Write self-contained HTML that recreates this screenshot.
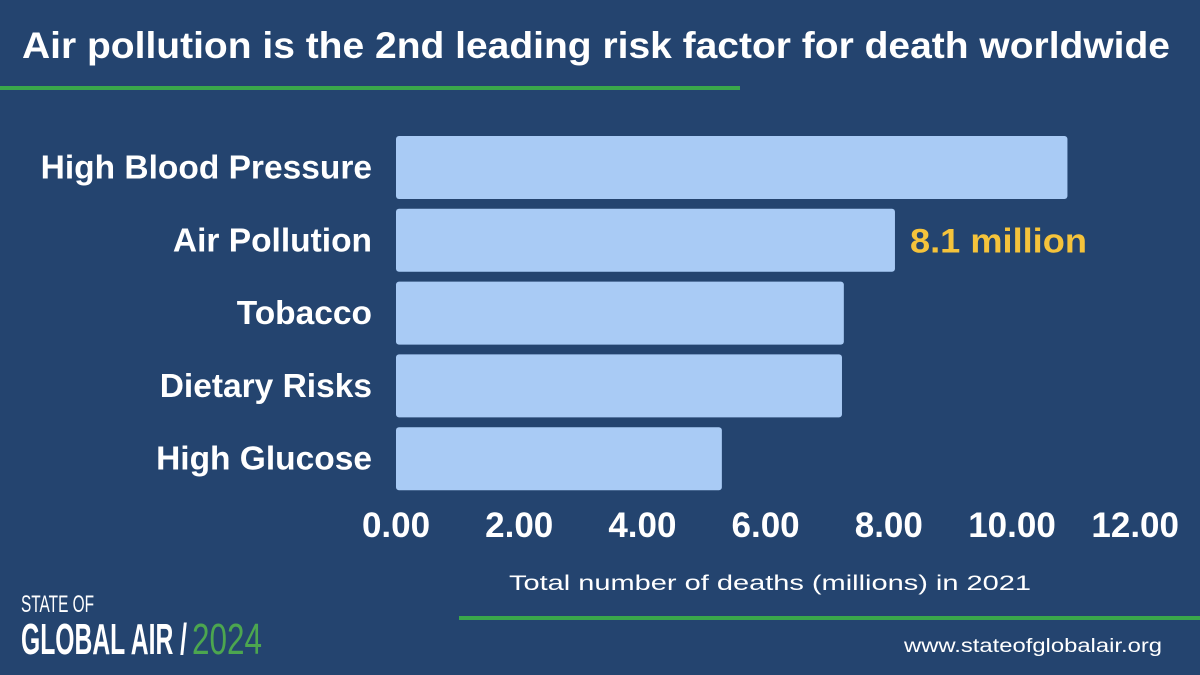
<!DOCTYPE html>
<html><head><meta charset="utf-8"><style>
html,body{margin:0;padding:0;background:#24446f;}
svg{display:block;font-family:"Liberation Sans",sans-serif;}
</style></head><body>
<svg width="1200" height="675" viewBox="0 0 1200 675">
<rect x="0" y="0" width="1200" height="675" fill="#24446f"/>
<text x="22" y="58" fill="#fff" font-size="37" font-weight="bold" textLength="1148" lengthAdjust="spacingAndGlyphs">Air pollution is the 2nd leading risk factor for death worldwide</text>
<rect x="0" y="86" width="740" height="4" fill="#3aa84a"/>
<g id="bars"></g>
<g id="ticks"></g>
<text x="770" y="590" fill="#fff" font-size="21" text-anchor="middle" textLength="522" lengthAdjust="spacingAndGlyphs">Total number of deaths (millions) in 2021</text>
<rect x="459" y="616" width="741" height="4" fill="#3aa84a"/>
<text x="1162" y="652" fill="#fff" font-size="19" text-anchor="end" textLength="258" lengthAdjust="spacingAndGlyphs">www.stateofglobalair.org</text>
<g>
<text x="21" y="612" fill="#fff" font-size="24" textLength="73" lengthAdjust="spacingAndGlyphs">STATE OF</text>
<text x="21" y="654" fill="#fff" font-size="44" font-weight="bold" textLength="166" lengthAdjust="spacingAndGlyphs">GLOBAL AIR /</text>
<text x="192" y="654" fill="#4ca64f" font-size="44" textLength="70" lengthAdjust="spacingAndGlyphs">2024</text>
</g>
</svg>
<script>
const categories=["High Blood Pressure","Air Pollution","Tobacco","Dietary Risks","High Glucose"];
const values=[10.9,8.1,7.27,7.24,5.29];
const tickValues=[0,2,4,6,8,10,12];
const tickLabels=["0.00","2.00","4.00","6.00","8.00","10.00","12.00"];
const annotation="8.1 million";
const NS="http://www.w3.org/2000/svg";
const x0=396, pxPerUnit=61.6;
const xs=v=>x0+v*pxPerUnit;
const barTop=136, pitch=72.8, barH=63;
const bars=document.getElementById('bars');
function mk(t,a){const e=document.createElementNS(NS,t);for(const k in a)e.setAttribute(k,a[k]);return e;}
categories.forEach((c,i)=>{
 const y=barTop+i*pitch;
 const r=mk('rect',{x:x0,y:y,width:xs(values[i])-x0,height:barH,rx:3,fill:'#a9cbf5'});
 
 
 bars.appendChild(r);
 const l=mk('text',{x:372,y:y+barH/2+11,fill:'#fff','font-size':33.5,'font-weight':'bold','text-anchor':'end'});
 l.textContent=c;
 
 
 bars.appendChild(l);
 if(i===1){
  const a=mk('text',{x:xs(values[i])+15,y:y+barH/2+12,fill:'#f5c33b','font-size':34,'font-weight':'bold',textLength:177,lengthAdjust:'spacingAndGlyphs'});
  a.textContent=annotation;
  
  
  bars.appendChild(a);
 }
});
const ticks=document.getElementById('ticks');
tickValues.forEach((v,i)=>{
 const t=mk('text',{x:xs(v),y:537,fill:'#fff','font-size':35,'font-weight':'bold','text-anchor':'middle'});
 t.textContent=tickLabels[i];
 
 
 ticks.appendChild(t);
});
</script>
</body></html>
